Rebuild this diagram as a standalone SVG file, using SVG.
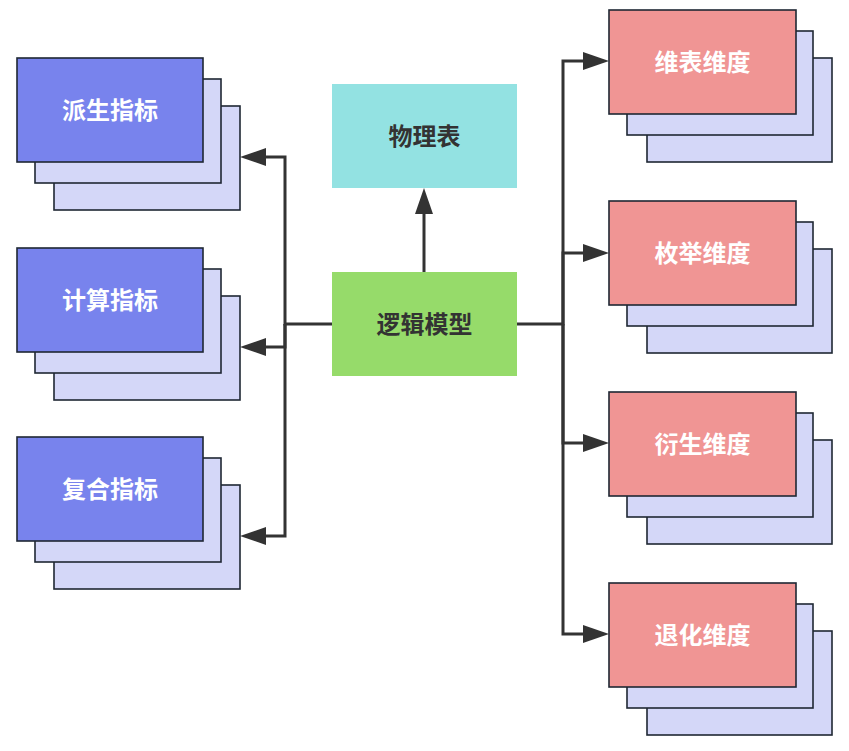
<svg xmlns="http://www.w3.org/2000/svg" width="849" height="751" viewBox="0 0 849 751">
<defs>
<style>
.back{fill:#d4d7f8;stroke:#1f2733;stroke-width:1.6}
.blue{fill:#7883ed;stroke:#1f2733;stroke-width:1.6}
.red{fill:#f09594;stroke:#1f2733;stroke-width:1.6}
.wt{fill:#ffffff;font-family:"Noto Sans CJK SC","Noto Sans",sans-serif;font-weight:bold;font-size:24px;text-anchor:middle;dominant-baseline:central}
.dt{fill:#333333;font-family:"Noto Sans CJK SC","Noto Sans",sans-serif;font-weight:bold;font-size:24px;text-anchor:middle;dominant-baseline:central}
.conn{fill:none;stroke:#333333;stroke-width:3;stroke-linejoin:miter}
</style>
<marker id="ah" markerUnits="userSpaceOnUse" viewBox="0 0 26 18" refX="0" refY="9" markerWidth="26" markerHeight="18" orient="auto">
<path d="M0,0 L26,9 L0,18 z" fill="#333333"/>
</marker>
</defs>
<rect width="849" height="751" fill="#ffffff"/>

<g id="connectors">
<path class="conn" d="M424,272 V214" marker-end="url(#ah)"/>
<path class="conn" d="M332,324 H285 V157 H266" marker-end="url(#ah)"/>
<path class="conn" d="M285,324 V347 H266" marker-end="url(#ah)"/>
<path class="conn" d="M285,324 V536 H266" marker-end="url(#ah)"/>
<path class="conn" d="M517,324 H563 V61 H583" marker-end="url(#ah)"/>
<path class="conn" d="M563,324 V253 H583" marker-end="url(#ah)"/>
<path class="conn" d="M563,324 V443 H583" marker-end="url(#ah)"/>
<path class="conn" d="M563,324 V634 H583" marker-end="url(#ah)"/>
</g>

<g id="wuli">
<rect x="332" y="84" width="185" height="104" fill="#93e2e2"/>
<text class="dt" x="424.5" y="134.5">物理表</text>
</g>
<g id="luoji">
<rect x="332" y="272" width="185" height="104" fill="#96db6a"/>
<text class="dt" x="424.5" y="322.5">逻辑模型</text>
</g>

<g id="paisheng">
<rect class="back" x="54" y="106" width="186" height="104"/>
<rect class="back" x="35" y="79" width="186" height="104"/>
<rect class="blue" x="17" y="58" width="186" height="104"/>
<text class="wt" x="110" y="108.5">派生指标</text>
</g>
<g id="jisuan">
<rect class="back" x="54" y="296" width="186" height="104"/>
<rect class="back" x="35" y="269" width="186" height="104"/>
<rect class="blue" x="17" y="248" width="186" height="104"/>
<text class="wt" x="110" y="298.5">计算指标</text>
</g>
<g id="fuhe">
<rect class="back" x="54" y="485" width="186" height="104"/>
<rect class="back" x="35" y="458" width="186" height="104"/>
<rect class="blue" x="17" y="437" width="186" height="104"/>
<text class="wt" x="110" y="487.5">复合指标</text>
</g>

<g id="weibiao">
<rect class="back" x="647" y="58" width="185" height="104"/>
<rect class="back" x="627" y="31" width="186" height="104"/>
<rect class="red" x="609" y="10" width="187" height="104"/>
<text class="wt" x="702.5" y="60.5">维表维度</text>
</g>
<g id="meiju">
<rect class="back" x="647" y="249" width="185" height="104"/>
<rect class="back" x="627" y="222" width="186" height="104"/>
<rect class="red" x="609" y="201" width="187" height="104"/>
<text class="wt" x="702.5" y="251.5">枚举维度</text>
</g>
<g id="yansheng">
<rect class="back" x="647" y="440" width="185" height="104"/>
<rect class="back" x="627" y="413" width="186" height="104"/>
<rect class="red" x="609" y="392" width="187" height="104"/>
<text class="wt" x="702.5" y="442.5">衍生维度</text>
</g>
<g id="tuihua">
<rect class="back" x="647" y="631" width="185" height="104"/>
<rect class="back" x="627" y="604" width="186" height="104"/>
<rect class="red" x="609" y="583" width="187" height="104"/>
<text class="wt" x="702.5" y="633.5">退化维度</text>
</g>
</svg>
